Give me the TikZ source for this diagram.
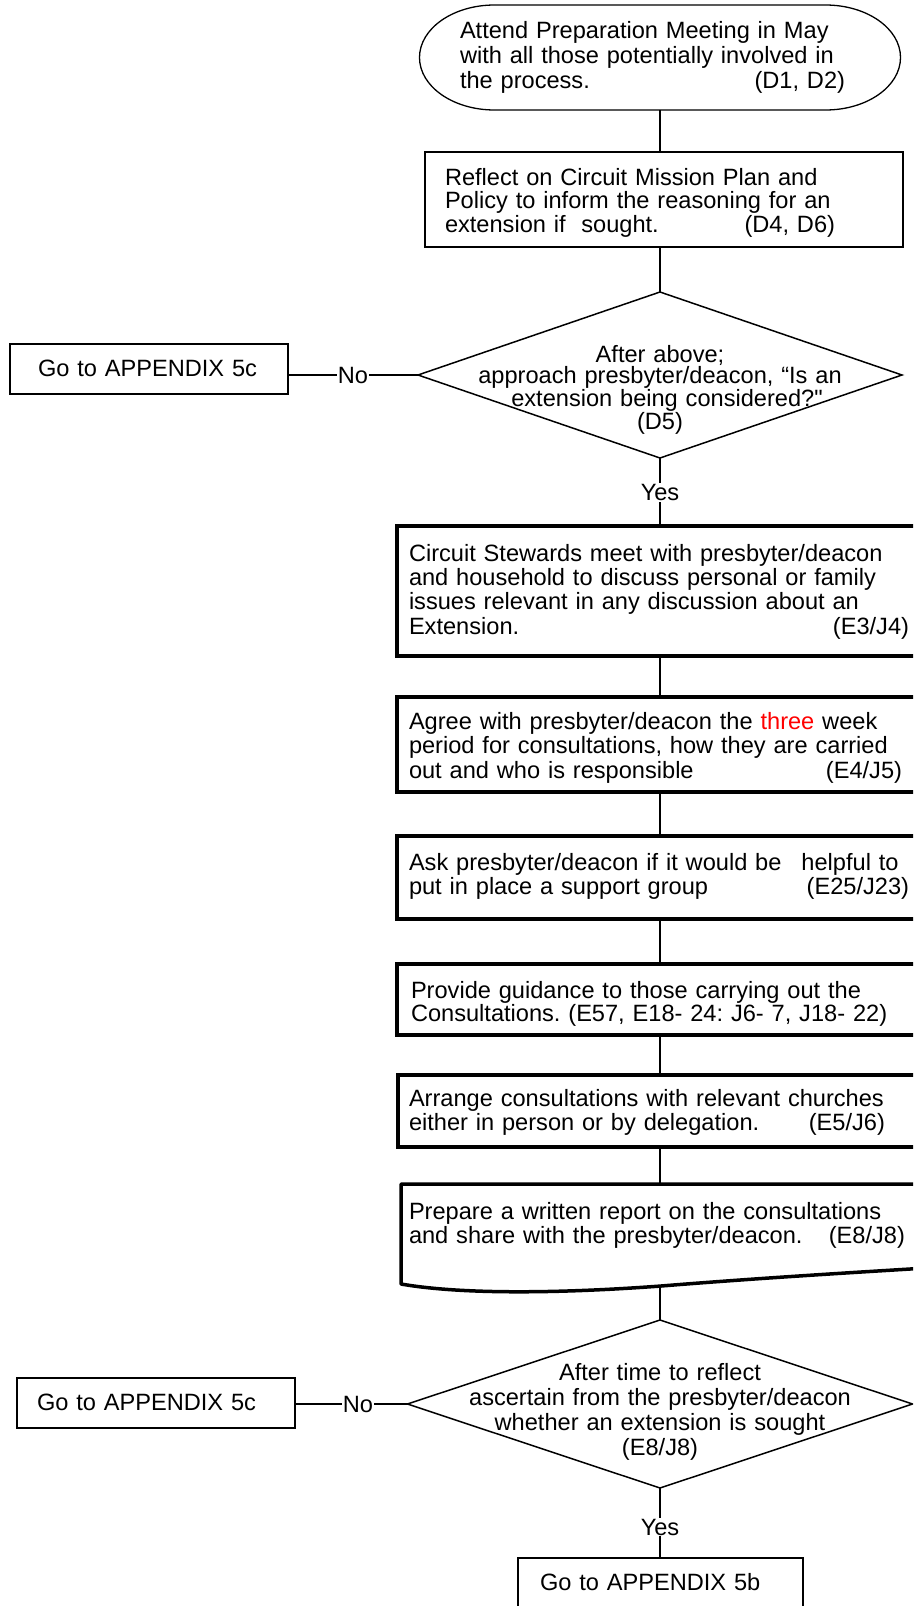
\documentclass[tikz,border=0pt]{standalone}
\usepackage{fontspec}
\setmainfont{Liberation Sans}
\newfontfamily\rawfont{Liberation Sans}
\usetikzlibrary{shapes.geometric}
\newcommand{\fs}[1]{\fontsize{23.6pt}{#1}\selectfont\frenchspacing}
\begin{document}
\begin{tikzpicture}[x=1pt,y=1pt,
  thinbox/.style={draw, line width=1.3pt, inner sep=0pt, outer sep=0pt, anchor=north west},
  thickbox/.style={draw, line width=3.5pt, inner sep=0pt, outer sep=0pt, anchor=north west},
  decision/.style={draw, diamond, line width=1.5pt, inner sep=0pt, outer sep=0pt},
  txt/.style={inner sep=0pt, outer sep=0pt, anchor=base west, align=left, text width=600pt},
  ctxt/.style={inner sep=0pt, outer sep=0pt, anchor=base, align=center, text width=480pt},
  conn/.style={line width=1.3pt},
  lbl/.style={fill=white, inner sep=1pt, font=\fs{25pt}},
]
\useasboundingbox (0,0) rectangle (913,-1606);
\clip (0,0) rectangle (913,-1606);

% terminator
\node[inner sep=0pt, outer sep=0pt, minimum width=481pt, minimum height=105pt] (term) at (660,-57.5) {};
\draw[line width=1.3pt] ([xshift=75pt]term.north west) -- ([xshift=-75pt]term.north east)
  arc[start angle=90, end angle=-90, x radius=75pt, y radius=52.5pt]
  -- ([xshift=75pt]term.south west)
  arc[start angle=270, end angle=90, x radius=75pt, y radius=52.5pt] -- cycle;
\node[txt, font=\fs{25pt}] (t0) at (460,-38)
  {Attend Preparation Meeting in May\\with all those potentially involved in\\\makebox[385pt][l]{the process.\hfill(D1, D2)}};

% box 2
\node[thinbox, minimum width=478pt, minimum height=95pt] (box2) at (425,-152) {};
\node[txt, font=\fs{23.5pt}] (t2) at (445,-185)
  {Reflect on Circuit Mission Plan and\\Policy to inform the reasoning for an\\\makebox[390pt][l]{extension if\ \ sought.\hfill(D4, D6)}};

% decision 1
\node[decision, minimum width=484pt, minimum height=166pt] (d1) at (660,-375) {};
\node[ctxt, font=\fs{19.7pt}] (td1) at (660,-362)
  {After above;\\approach presbyter/deacon, “Is an\\\hspace*{14pt}extension being considered?{\rawfont"}\\(D5)};

\node[thinbox, minimum width=278pt, minimum height=50pt] (b5c1) at (10,-344) {};
\node[txt, font=\fs{25pt}] (tb5c1) at (38,-376) {Go to APPENDIX 5c};

% process boxes
\node[thickbox, minimum width=533pt, minimum height=130pt] (box3) at (397,-526) {};
\node[txt, font=\fs{24.4pt}] (t3) at (409,-561)
  {Circuit Stewards meet with presbyter/deacon\\and household to discuss personal or family\\issues relevant in any discussion about an\\\makebox[500pt][l]{Extension.\hfill(E3/J4)}};

\node[thickbox, minimum width=533pt, minimum height=95pt] (box4) at (397,-697) {};
\node[txt, font=\fs{24.5pt}] (t4) at (409,-729)
  {Agree with presbyter/deacon the \textcolor{red}{three} week\\period for consultations, how they are carried\\\makebox[493pt][l]{out and who is responsible\hfill(E4/J5)}};

\node[thickbox, minimum width=533pt, minimum height=83pt] (box5) at (397,-836) {};
\node[txt, font=\fs{24pt}] (t5) at (409,-870)
  {Ask presbyter/deacon if it would be\hspace{20pt}helpful to\\\makebox[500pt][l]{put in place a support group\hfill(E25/J23)}};

\node[thickbox, minimum width=533pt, minimum height=71pt] (box6) at (397,-964) {};
\node[txt, font=\fs{23pt}] (t6) at (411,-998)
  {Provide guidance to those carrying out the\\Consultations. (E57, E18- 24: J6- 7, J18- 22)};

\node[thickbox, minimum width=532pt, minimum height=72pt] (box7) at (398,-1075) {};
\node[txt, font=\fs{24pt}] (t7) at (409,-1106)
  {Arrange consultations with relevant churches\\\makebox[476pt][l]{either in person or by delegation.\hfill(E5/J6)}};

% document shape
\coordinate (b8top) at (660,-1184);
\coordinate (w8) at (660,-1286);
\draw[line width=3.5pt, line join=round] (960,-1266) .. controls (860,-1272) and (760,-1278) .. (661,-1286)
  .. controls (580,-1292) and (470,-1296) .. (401,-1284) -- (401,-1184) -- (960,-1184);
\node[txt, font=\fs{24pt}] (t8) at (409,-1219)
  {Prepare a written report on the consultations\\\makebox[496pt][l]{and share with the presbyter/deacon.\hfill(E8/J8)}};

% decision 2
\node[decision, minimum width=505pt, minimum height=168pt] (d2) at (660,-1404) {};
\node[ctxt, font=\fs{25pt}] (td2) at (660,-1380)
  {After time to reflect\\ascertain from the presbyter/deacon\\whether an extension is sought\\(E8/J8)};

\node[thinbox, minimum width=278pt, minimum height=50pt] (b5c2) at (17,-1378) {};
\node[txt, font=\fs{25pt}] (tb5c2) at (37,-1410) {Go to APPENDIX 5c};

\node[thinbox, minimum width=285pt, minimum height=80pt] (b5b) at (518,-1558) {};
\node[txt, font=\fs{25pt}] (tb5b) at (540,-1590) {Go to APPENDIX 5b};

% connectors
\draw[conn] (term.south) -- (term.south |- box2.north);
\draw[conn] (box2.south -| d1.north) -- (d1.north);
\draw[conn] (d1.south) -- node[lbl, pos=0.51] (yes1) {Yes} (d1.south |- box3.north);
\draw[conn] (d1.west) -- node[lbl, pos=0.5] (no1) {No} (d1.west -| b5c1.east);
\draw[conn] (box3.south -| d1.south) -- (box4.north -| d1.south);
\draw[conn] (box4.south -| d1.south) -- (box5.north -| d1.south);
\draw[conn] (box5.south -| d1.south) -- (box6.north -| d1.south);
\draw[conn] (box6.south -| d1.south) -- (box7.north -| d1.south);
\draw[conn] (box7.south -| d1.south) -- (b8top);
\draw[conn] (w8) -- (d2.north);
\draw[conn] (d2.west) -- node[lbl, pos=0.44] (no2) {No} (d2.west -| b5c2.east);
\draw[conn] (d2.south) -- node[lbl, pos=0.56] (yes2) {Yes} (d2.south |- b5b.north);
\end{tikzpicture}
\end{document}
